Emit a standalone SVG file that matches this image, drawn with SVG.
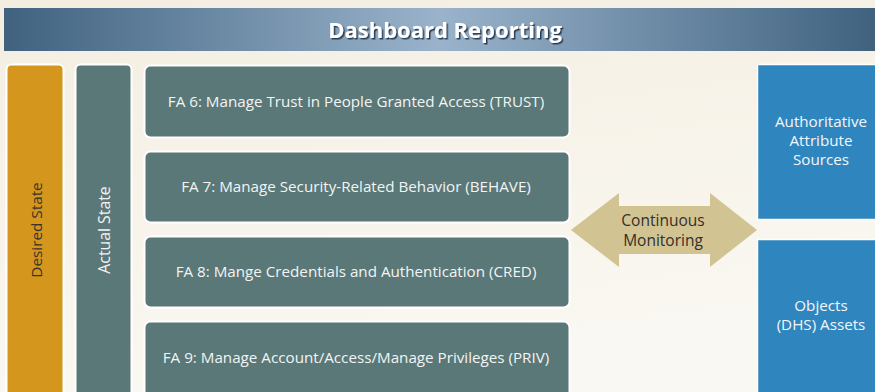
<svg xmlns="http://www.w3.org/2000/svg" width="875" height="392" viewBox="0 0 875 392">
<defs>
<linearGradient id="bg" x1="0" y1="0" x2="0.3" y2="1">
<stop offset="0" stop-color="#f4eee1"/>
<stop offset="1" stop-color="#faf8f2"/>
</linearGradient>
<linearGradient id="hdr" x1="0" y1="0" x2="1" y2="0">
<stop offset="0" stop-color="#40627f"/>
<stop offset="0.5" stop-color="#9ab3cb"/>
<stop offset="1" stop-color="#40627f"/>
</linearGradient>
<filter id="sh" x="-10%" y="-10%" width="120%" height="130%">
<feDropShadow dx="1.5" dy="1.5" stdDeviation="0.4" flood-color="#1f3347" flood-opacity="0.9"/>
</filter>
</defs>
<style>
.t{font-family:"Open Sans","Noto Sans","Liberation Sans",sans-serif;}
.fa{fill:#5a7877;stroke:#ffffff;stroke-width:2;}
.fat{font-size:15.2px;fill:#f2f4f4;text-anchor:middle;}
.blue{fill:#2f86be;stroke:#ffffff;stroke-width:1.5;}
.bt{font-size:15.2px;fill:#f2f6fa;text-anchor:middle;}
</style>
<rect width="875" height="392" fill="url(#bg)"/>
<g id="header">
<rect x="4" y="8" width="871" height="43" fill="url(#hdr)"/>
<text class="t" x="445" y="38" font-size="22" font-weight="bold" fill="#ffffff" text-anchor="middle" filter="url(#sh)">Dashboard Reporting</text>
</g>
<g id="desired-state">
<rect x="6.5" y="64.5" width="57" height="340" rx="5" fill="#d4961d" stroke="#ffffff" stroke-width="2"/>
<text class="t" transform="translate(42,230) rotate(-90)" font-size="15.3" fill="#3b342a" text-anchor="middle">Desired State</text>
</g>
<g id="actual-state">
<rect x="75.5" y="64.5" width="56" height="340" rx="5" class="fa"/>
<text class="t" transform="translate(109.5,230) rotate(-90)" font-size="15.8" fill="#f2f4f4" text-anchor="middle">Actual State</text>
</g>
<g id="fa6">
<rect x="144.5" y="65.5" width="425" height="72" rx="6" class="fa"/>
<text class="t fat" x="356" y="107">FA 6: Manage Trust in People Granted Access (TRUST)</text>
</g>
<g id="fa7">
<rect x="144.5" y="151.5" width="425" height="71" rx="6" class="fa"/>
<text class="t fat" x="356" y="192">FA 7: Manage Security-Related Behavior (BEHAVE)</text>
</g>
<g id="fa8">
<rect x="144.5" y="236.5" width="425" height="71" rx="6" class="fa"/>
<text class="t fat" x="356" y="277">FA 8: Mange Credentials and Authentication (CRED)</text>
</g>
<g id="fa9">
<rect x="144.5" y="321.5" width="425" height="80" rx="6" class="fa"/>
<text class="t fat" x="356" y="363">FA 9: Manage Account/Access/Manage Privileges (PRIV)</text>
</g>
<g id="connectors">
<polygon points="571,230 619,193 619,206 710,206 710,193 757,230 710,267 710,254 619,254 619,267" fill="#d2c393"/>
<text class="t" x="663" y="226" font-size="15.5" fill="#333029" text-anchor="middle">Continuous</text>
<text class="t" x="663" y="246" font-size="15.5" fill="#333029" text-anchor="middle">Monitoring</text>
</g>
<g id="authoritative-sources">
<rect x="757.5" y="64.5" width="120" height="155" class="blue"/>
<text class="t bt" x="821" y="127">Authoritative</text>
<text class="t bt" x="821" y="146">Attribute</text>
<text class="t bt" x="821" y="165">Sources</text>
</g>
<g id="objects-assets">
<rect x="757.5" y="239.5" width="120" height="160" class="blue"/>
<text class="t bt" x="821" y="311">Objects</text>
<text class="t bt" x="821" y="330">(DHS) Assets</text>
</g>
</svg>
